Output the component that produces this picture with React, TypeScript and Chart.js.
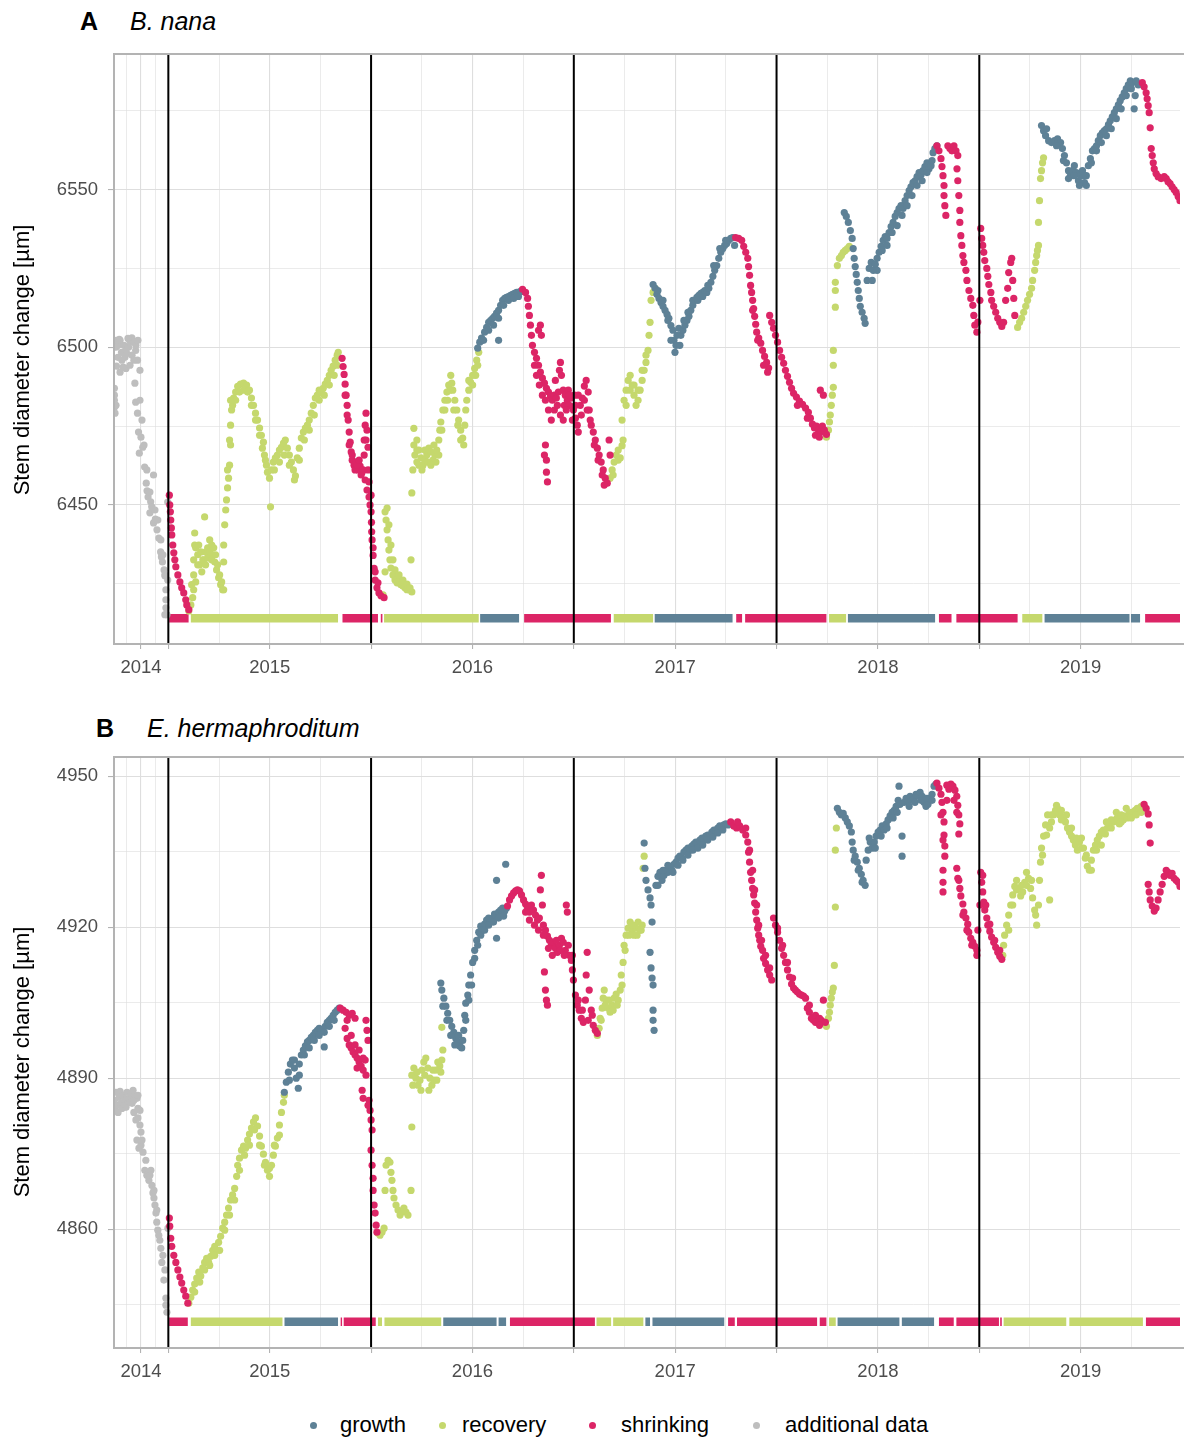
import React, { useEffect, useRef } from 'react';
import { Chart, registerables } from 'chart.js';

Chart.register(...registerables);

const FONT = '"Liberation Sans", Arial, Helvetica, sans-serif';
const COLORS: Record<string, string> = {
  growth: '#5E8196',
  recovery: '#C5D86D',
  shrinking: '#DC2566',
  additional: '#BEBEBE',
};

// ---------- shared x axis (decimal years; season boundaries) ----------
const X_MIN = 2014.232;
const X_MAX = 2019.49;
const seasonBoundaries = [2014.5, 2015.5, 2016.5, 2017.5, 2018.5];
const yearTickValues = [2014.365, 2015, 2016, 2017, 2018, 2019];
const yearTickLabels = ['2014', '2015', '2016', '2017', '2018', '2019'];
const minorXValues = [2014.295, 2014.435, 2014.75, 2015.25, 2015.75, 2016.25, 2016.75, 2017.25, 2017.75, 2018.25, 2018.75, 2019.25];

// ---------- panel A: B. nana ----------
const A_yRange = [6405.9, 6593.0];
const A_yMajor = [6450, 6500, 6550];
const A_yMinor = [6425, 6475, 6525, 6575];
const A_barLevel = 6414.1;

const A_additional = [
  [2014.234,6484.8],[2014.234,6481.0],[2014.237,6479.1],[2014.242,6500.0],[2014.244,6494.0],[2014.251,6496.8],[2014.258,6502.5],[2014.269,6498.4],[2014.277,6493.7],[2014.286,6496.8],[2014.295,6498.0],[2014.304,6500.0],[2014.313,6501.6],[2014.320,6503.0],[2014.330,6501.6],[2014.339,6499.0],[2014.348,6495.9],[2014.360,6492.7],[2014.335,6488.6],[2014.339,6482.6],[2014.348,6479.1],[2014.353,6473.1],[2014.365,6471.5],[2014.357,6466.4],[2014.374,6468.3],[2014.383,6462.0],[2014.391,6456.9],[2014.395,6454.5],[2014.427,6459.5],[2014.400,6452.5],[2014.413,6451.0],[2014.418,6449.4],[2014.409,6447.5],[2014.427,6444.3],[2014.436,6445.5],[2014.444,6442.1],[2014.453,6439.5],[2014.462,6435.1],[2014.466,6433.5],[2014.471,6431.9],[2014.479,6429.4],[2014.484,6427.5],[2014.497,6426.2],[2014.488,6419.9],[2014.488,6417.4],[2014.493,6415.2],[2014.497,6450.9],
  [2014.242,6502.2],[2014.252,6500.6],[2014.262,6502.2],[2014.271,6495.9],[2014.281,6500.6],[2014.291,6499.0],[2014.301,6502.8],[2014.321,6497.5],[2014.330,6495.9],[2014.340,6500.6],[2014.350,6502.2],[2014.291,6493.3],[2014.262,6492.1],[2014.311,6494.3],[2014.234,6487.0],[2014.234,6483.2],[2014.242,6481.6],
  [2014.360,6483.2],[2014.370,6476.9],[2014.380,6469.0],[2014.394,6461.1],[2014.409,6454.1],[2014.434,6448.4],[2014.448,6445.2],[2014.463,6438.9],[2014.473,6434.2],[2014.483,6427.8],[2014.488,6423.1],[2014.483,6415.2],
];

const A_shrinking = [
  [2014.505,6453.1],[2014.507,6450.0],[2014.510,6447.8],[2014.512,6445.2],[2014.515,6442.7],[2014.517,6440.5],[2014.522,6437.3],[2014.527,6434.8],[2014.532,6432.6],[2014.537,6430.4],[2014.547,6427.8],[2014.557,6425.6],[2014.566,6423.7],[2014.576,6422.1],[2014.586,6419.9],[2014.591,6418.3],[2014.601,6416.8],
  [2015.357,6496.5],[2015.362,6493.9],[2015.367,6491.4],[2015.372,6488.3],[2015.377,6484.8],[2015.382,6481.6],[2015.387,6476.9],[2015.392,6473.1],[2015.397,6469.9],[2015.402,6466.8],[2015.407,6464.2],[2015.416,6462.6],[2015.426,6463.6],[2015.436,6461.1],[2015.446,6462.3],[2015.456,6460.4],[2015.466,6465.8],[2015.466,6470.6],[2015.471,6475.3],[2015.475,6479.1],[2015.480,6473.7],[2015.485,6468.3],[2015.471,6457.9],[2015.480,6454.7],[2015.490,6452.5],[2015.495,6450.0],[2015.500,6447.8],[2015.502,6444.5],[2015.503,6441.5],[2015.505,6438.9],[2015.510,6434.0],[2015.515,6429.9],[2015.520,6426.2],[2015.529,6423.7],[2015.539,6422.1],[2015.549,6421.2],[2015.564,6420.6],
  [2015.372,6484.8],[2015.382,6478.5],[2015.392,6469.0],[2015.407,6465.8],[2015.421,6461.1],[2015.431,6462.6],[2015.441,6464.2],[2015.451,6459.5],[2015.461,6461.1],[2015.475,6470.6],[2015.485,6461.1],[2015.490,6457.3],[2015.500,6453.1],[2015.510,6436.4],[2015.520,6428.8],[2015.534,6425.3],
  [2016.247,6518.4],[2016.262,6517.4],[2016.272,6515.5],[2016.276,6513.0],[2016.281,6510.1],[2016.286,6507.0],[2016.291,6503.8],[2016.296,6500.6],[2016.306,6498.4],[2016.316,6496.5],[2016.326,6505.4],[2016.335,6507.0],[2016.340,6503.8],[2016.326,6494.3],[2016.335,6492.1],[2016.345,6490.2],[2016.355,6488.6],[2016.365,6487.0],[2016.375,6485.8],[2016.385,6484.5],[2016.360,6469.0],[2016.365,6464.2],[2016.365,6460.4],[2016.370,6457.3],[2016.394,6483.2],[2016.404,6484.8],[2016.409,6489.5],[2016.414,6483.9],[2016.424,6485.8],[2016.429,6492.7],[2016.434,6495.2],[2016.439,6491.1],[2016.448,6486.4],[2016.453,6481.6],[2016.458,6484.8],[2016.468,6483.2],[2016.473,6486.4],[2016.478,6481.6],[2016.488,6483.9],[2016.498,6480.1],[2016.503,6484.8],[2016.508,6477.5],[2016.517,6475.3],[2016.522,6473.1],[2016.532,6481.6],[2016.542,6483.9],[2016.552,6487.7],[2016.561,6489.5],[2016.571,6485.8],[2016.576,6480.1],[2016.586,6475.3],[2016.596,6473.1],[2016.606,6470.6],[2016.616,6468.0],[2016.625,6465.8],[2016.635,6463.6],[2016.645,6461.1],[2016.655,6458.5],[2016.665,6456.9],[2016.674,6470.6],[2016.679,6465.8],
  [2016.306,6494.3],[2016.316,6491.1],[2016.330,6488.0],[2016.345,6484.8],[2016.360,6483.2],[2016.375,6480.1],[2016.389,6476.9],[2016.404,6480.1],[2016.419,6481.6],[2016.434,6478.5],[2016.448,6476.9],[2016.463,6480.1],[2016.478,6484.8],[2016.493,6476.9],[2016.508,6481.6],[2016.522,6484.8],[2016.537,6478.5],[2016.552,6483.2],[2016.566,6480.1],[2016.581,6476.9],[2016.601,6469.0],[2016.620,6464.2],[2016.640,6459.5],[2016.650,6456.3],[2016.355,6465.8],
  [2017.298,6534.8],[2017.313,6534.5],[2017.328,6533.9],[2017.338,6532.0],[2017.348,6530.1],[2017.358,6528.2],[2017.362,6525.6],[2017.367,6522.8],[2017.372,6519.6],[2017.377,6517.4],[2017.382,6514.9],[2017.387,6512.3],[2017.392,6509.8],[2017.397,6507.3],[2017.402,6504.8],[2017.412,6502.9],[2017.422,6501.3],[2017.431,6499.0],[2017.441,6497.1],[2017.451,6495.2],[2017.461,6493.4],[2017.466,6510.1],[2017.476,6507.9],[2017.485,6506.0],[2017.495,6503.8],[2017.505,6501.6],[2017.515,6499.0],[2017.525,6496.8],[2017.535,6494.9],[2017.544,6492.7],[2017.554,6490.8],[2017.564,6488.9],[2017.574,6487.0],[2017.584,6485.4],[2017.598,6484.2],[2017.613,6482.9],[2017.628,6481.9],[2017.643,6480.7],[2017.657,6479.4],[2017.667,6477.5],[2017.677,6475.6],[2017.687,6474.4],[2017.697,6475.0],[2017.707,6473.7],[2017.716,6473.1],[2017.726,6475.0],[2017.731,6484.8],[2017.736,6473.7],[2017.746,6472.4],
  [2017.382,6511.7],[2017.407,6502.2],[2017.436,6494.3],[2017.456,6492.1],[2017.603,6481.6],[2017.652,6477.5],[2017.692,6472.1],[2017.711,6471.5],[2017.716,6486.4],
  [2018.291,6563.9],[2018.301,6562.3],[2018.311,6559.8],[2018.316,6557.3],[2018.321,6554.4],[2018.326,6551.3],[2018.326,6548.1],[2018.330,6544.9],[2018.335,6541.8],[2018.345,6563.9],[2018.355,6563.0],[2018.365,6562.3],[2018.375,6563.9],[2018.385,6562.3],[2018.394,6560.8],[2018.390,6556.6],[2018.394,6552.8],[2018.399,6548.1],[2018.404,6543.4],[2018.404,6539.6],[2018.409,6535.4],[2018.414,6532.3],[2018.419,6529.1],[2018.424,6526.9],[2018.434,6524.4],[2018.439,6521.2],[2018.449,6518.0],[2018.458,6515.5],[2018.468,6513.3],[2018.473,6510.1],[2018.478,6507.0],[2018.488,6504.8],[2018.493,6508.0],[2018.503,6514.9],[2018.507,6537.7],[2018.512,6534.5],[2018.517,6532.3],[2018.522,6530.1],[2018.527,6527.5],[2018.537,6525.0],[2018.542,6522.5],[2018.547,6519.9],[2018.557,6517.4],[2018.561,6514.9],[2018.571,6513.0],[2018.581,6511.1],[2018.591,6509.2],[2018.601,6507.9],[2018.611,6506.6],[2018.620,6507.9],[2018.630,6514.9],[2018.640,6518.7],[2018.645,6523.7],[2018.655,6526.9],[2018.660,6528.2],[2018.665,6521.2],[2018.670,6515.5],[2018.675,6510.1],
  [2019.304,6583.9],[2019.313,6582.6],[2019.323,6580.7],[2019.328,6578.8],[2019.333,6576.6],[2019.338,6574.4],[2019.343,6569.6],[2019.348,6563.0],[2019.353,6560.8],[2019.358,6558.5],[2019.363,6556.6],[2019.372,6555.1],[2019.382,6554.1],[2019.397,6553.5],[2019.412,6554.1],[2019.422,6553.5],[2019.431,6552.5],[2019.441,6551.9],[2019.451,6550.9],[2019.461,6550.0],[2019.471,6549.1],[2019.481,6547.8],[2019.490,6546.5],
];

const A_recovery = [
  [2014.601,6416.4],[2014.611,6418.3],[2014.620,6420.6],[2014.625,6423.1],[2014.635,6425.6],[2014.625,6432.6],[2014.630,6437.3],[2014.630,6441.1],[2014.645,6434.2],[2014.655,6431.0],[2014.665,6428.8],[2014.674,6432.6],[2014.679,6446.2],[2014.684,6435.1],[2014.694,6436.4],[2014.704,6438.9],[2014.714,6437.3],[2014.719,6434.2],[2014.729,6431.9],[2014.738,6429.4],[2014.748,6426.9],[2014.758,6424.7],[2014.768,6423.1],[2014.773,6431.9],[2014.773,6437.3],[2014.778,6443.7],[2014.783,6448.4],[2014.787,6451.6],[2014.792,6455.4],[2014.797,6458.5],[2014.802,6462.6],[2014.807,6469.0],[2014.807,6475.3],[2014.812,6480.1],[2014.822,6483.9],[2014.832,6485.8],[2014.842,6487.6],[2014.856,6488.3],[2014.871,6488.6],[2014.886,6488.0],[2014.900,6486.4],[2014.910,6483.9],[2014.920,6481.6],[2014.930,6479.1],[2014.940,6476.9],[2014.950,6474.4],[2014.959,6472.1],[2014.969,6469.9],[2014.974,6465.8],[2014.984,6462.6],[2014.989,6460.4],[2014.999,6458.5],[2015.004,6449.4],[2015.009,6461.1],[2015.018,6463.6],[2015.028,6464.9],[2015.038,6465.8],[2015.048,6467.4],[2015.058,6468.3],[2015.068,6469.6],[2015.077,6470.6],[2015.087,6468.0],[2015.097,6465.8],[2015.107,6463.6],[2015.117,6461.1],[2015.127,6459.2],[2015.136,6464.9],[2015.146,6468.0],[2015.156,6471.2],[2015.166,6473.1],[2015.176,6474.4],[2015.186,6475.3],[2015.195,6476.9],[2015.205,6479.1],[2015.215,6481.6],[2015.225,6483.9],[2015.235,6484.8],[2015.244,6486.4],[2015.254,6485.8],[2015.264,6487.0],[2015.274,6488.3],[2015.284,6489.5],[2015.294,6491.1],[2015.303,6492.7],[2015.313,6494.0],[2015.323,6495.9],[2015.333,6497.5],[2015.338,6498.4],
  [2014.635,6436.4],[2014.650,6437.3],[2014.660,6435.1],[2014.670,6432.6],[2014.684,6431.0],[2014.694,6433.2],[2014.704,6435.1],[2014.714,6432.6],[2014.724,6436.4],[2014.733,6434.2],[2014.743,6431.0],[2014.753,6427.8],[2014.763,6425.6],[2014.773,6423.1],[2014.615,6424.7],[2014.625,6427.8],[2014.645,6431.0],
  [2014.817,6481.6],[2014.832,6483.2],[2014.851,6485.8],[2014.871,6486.4],[2014.891,6485.8],[2014.910,6481.6],[2014.930,6476.9],[2014.950,6472.1],[2014.964,6468.0],[2014.979,6464.2],[2014.792,6461.1],[2014.802,6470.6],[2014.807,6483.2],
  [2015.023,6461.1],[2015.048,6463.6],[2015.072,6465.8],[2015.097,6462.6],[2015.122,6457.9],[2015.146,6464.2],[2015.171,6470.6],[2015.195,6473.7],[2015.220,6478.5],[2015.244,6483.2],[2015.269,6484.8],[2015.294,6488.0],[2015.318,6491.1],[2015.333,6494.3],
  [2015.559,6421.5],[2015.569,6447.8],[2015.574,6445.2],[2015.579,6442.1],[2015.584,6438.9],[2015.588,6435.7],[2015.593,6432.6],[2015.598,6430.0],[2015.569,6428.8],[2015.608,6427.8],[2015.618,6426.2],[2015.628,6425.3],[2015.638,6426.2],[2015.647,6424.7],[2015.657,6424.3],[2015.667,6423.7],[2015.677,6423.1],[2015.687,6423.1],[2015.697,6432.6],[2015.701,6422.4],
  [2015.579,6449.0],[2015.588,6443.7],[2015.598,6437.3],[2015.608,6432.6],[2015.618,6429.4],[2015.638,6427.8],[2015.657,6426.2],[2015.677,6424.9],[2015.692,6423.7],
  [2015.701,6453.8],[2015.706,6461.1],[2015.711,6474.3],[2015.716,6465.8],[2015.726,6463.6],[2015.726,6470.6],[2015.736,6467.4],[2015.746,6464.9],[2015.756,6462.6],[2015.765,6464.2],[2015.775,6465.8],[2015.785,6468.0],[2015.795,6466.8],[2015.805,6464.2],[2015.815,6465.8],[2015.824,6467.4],[2015.834,6470.6],[2015.839,6473.7],[2015.844,6476.3],[2015.854,6480.1],[2015.864,6483.2],[2015.874,6485.8],[2015.883,6488.0],[2015.893,6491.1],[2015.903,6486.4],[2015.913,6483.2],[2015.923,6480.1],[2015.932,6476.9],[2015.942,6473.7],[2015.952,6471.2],[2015.962,6475.3],[2015.972,6483.2],[2015.982,6486.4],[2015.991,6488.9],[2016.001,6491.1],[2016.011,6493.3],[2016.021,6495.9],[2016.031,6498.4],
  [2015.711,6469.0],[2015.726,6467.4],[2015.736,6462.6],[2015.751,6461.1],[2015.765,6467.4],[2015.780,6463.6],[2015.795,6462.6],[2015.810,6469.0],[2015.820,6463.6],[2015.834,6465.8],[2015.849,6473.7],[2015.864,6480.1],[2015.878,6483.2],[2015.888,6486.4],[2015.898,6488.6],[2015.908,6480.1],[2015.928,6475.3],[2015.942,6470.6],[2015.957,6469.0],[2015.967,6480.1],[2015.982,6489.5],[2016.001,6488.0],[2016.016,6491.1],[2016.026,6494.3],
  [2016.679,6458.5],[2016.689,6461.1],[2016.699,6463.6],[2016.709,6465.8],[2016.719,6467.4],[2016.729,6464.9],[2016.738,6468.8],[2016.738,6476.9],[2016.748,6483.2],[2016.758,6486.4],[2016.768,6489.5],[2016.778,6491.1],[2016.788,6488.0],[2016.797,6484.8],[2016.807,6481.6],[2016.817,6483.2],[2016.827,6486.4],[2016.837,6489.5],[2016.847,6492.7],[2016.856,6495.2],[2016.866,6499.0],[2016.871,6503.8],[2016.876,6507.9],[2016.881,6514.9],[2016.891,6517.4],[2016.901,6518.7],
  [2016.694,6459.5],[2016.719,6464.2],[2016.743,6470.6],[2016.758,6481.6],[2016.778,6486.4],[2016.797,6488.0],[2016.817,6486.4],[2016.837,6492.7],[2016.856,6497.5],
  [2017.746,6471.5],[2017.756,6473.7],[2017.761,6476.3],[2017.765,6478.5],[2017.770,6481.6],[2017.775,6484.8],[2017.780,6487.3],[2017.780,6494.3],[2017.780,6499.0],[2017.790,6512.7],[2017.790,6518.0],[2017.790,6520.6],[2017.800,6525.9],[2017.810,6528.2],[2017.820,6529.1],[2017.829,6530.1],[2017.839,6530.7],[2017.849,6531.3],[2017.859,6532.0],
  [2018.689,6506.3],[2018.699,6507.9],[2018.709,6509.2],[2018.719,6511.1],[2018.729,6513.0],[2018.738,6514.9],[2018.748,6516.8],[2018.758,6518.7],[2018.763,6521.2],[2018.773,6524.4],[2018.778,6526.9],[2018.783,6529.1],[2018.787,6530.7],[2018.792,6532.3],[2018.792,6539.6],[2018.797,6546.5],[2018.802,6553.5],[2018.807,6556.0],[2018.812,6558.5],[2018.817,6560.1],
];

const A_growth = [
  [2016.026,6499.7],[2016.036,6501.6],[2016.045,6502.9],[2016.060,6504.8],[2016.070,6506.3],[2016.080,6507.9],[2016.090,6508.5],[2016.100,6509.2],[2016.109,6509.8],[2016.119,6510.8],[2016.129,6502.2],[2016.129,6511.7],[2016.139,6513.3],[2016.149,6514.9],[2016.159,6515.5],[2016.168,6515.8],[2016.178,6516.1],[2016.188,6516.5],[2016.198,6516.8],[2016.208,6517.1],[2016.218,6517.4],[2016.227,6517.4],[2016.237,6517.7],[2016.247,6517.7],
  [2016.055,6502.2],[2016.080,6505.4],[2016.104,6507.0],[2016.129,6509.2],[2016.154,6513.3],[2016.178,6514.9],[2016.203,6515.5],[2016.227,6516.1],
  [2016.891,6519.9],[2016.901,6518.7],[2016.910,6516.8],[2016.920,6515.5],[2016.930,6514.2],[2016.940,6513.0],[2016.950,6511.7],[2016.960,6510.4],[2016.969,6509.2],[2016.979,6506.9],[2016.989,6505.4],[2016.994,6502.2],[2016.999,6498.4],[2017.009,6503.8],[2017.018,6506.0],[2017.028,6503.8],[2017.038,6505.4],[2017.048,6507.0],[2017.058,6508.5],[2017.068,6509.8],[2017.077,6511.7],[2017.087,6513.3],[2017.097,6514.9],[2017.107,6515.8],[2017.117,6516.5],[2017.127,6517.1],[2017.136,6517.4],[2017.146,6518.0],[2017.156,6517.4],[2017.166,6518.7],[2017.176,6520.6],[2017.186,6522.5],[2017.195,6524.4],[2017.205,6525.9],[2017.215,6528.2],[2017.225,6530.1],[2017.235,6531.3],[2017.244,6532.3],[2017.254,6532.9],[2017.264,6533.9],[2017.274,6534.5],[2017.284,6534.8],[2017.293,6532.3],
  [2016.915,6518.0],[2016.940,6514.9],[2016.964,6508.5],[2016.979,6502.2],[2017.004,6500.6],[2017.023,6500.6],[2017.043,6508.5],[2017.063,6511.1],[2017.087,6514.9],[2017.112,6514.9],[2017.136,6516.1],[2017.161,6519.6],[2017.190,6525.9],[2017.220,6531.3],[2017.249,6533.9],
  [2017.834,6542.7],[2017.844,6541.5],[2017.854,6539.6],[2017.864,6537.0],[2017.873,6534.5],[2017.878,6531.3],[2017.883,6528.2],[2017.888,6525.6],[2017.893,6523.1],[2017.898,6520.6],[2017.903,6518.0],[2017.908,6515.5],[2017.913,6513.0],[2017.922,6511.1],[2017.932,6509.2],[2017.937,6507.6],[2017.947,6521.2],[2017.957,6525.0],[2017.967,6526.9],[2017.977,6524.4],[2017.987,6526.3],[2017.996,6528.2],[2018.006,6530.1],[2018.016,6532.0],[2018.026,6533.9],[2018.036,6535.1],[2018.045,6534.5],[2018.055,6536.4],[2018.065,6538.3],[2018.075,6539.6],[2018.085,6541.5],[2018.095,6542.7],[2018.104,6544.0],[2018.114,6544.9],[2018.124,6544.0],[2018.134,6546.5],[2018.144,6548.1],[2018.154,6549.7],[2018.163,6550.9],[2018.173,6552.2],[2018.183,6552.8],[2018.193,6554.1],[2018.203,6555.4],[2018.213,6554.7],[2018.222,6556.0],[2018.232,6557.3],[2018.242,6558.5],[2018.252,6556.6],[2018.262,6557.6],[2018.272,6561.7],[2018.281,6563.0],[2018.291,6563.9],
  [2017.972,6521.2],[2017.996,6524.4],[2018.021,6530.7],[2018.045,6532.3],[2018.070,6536.4],[2018.095,6538.6],[2018.119,6541.8],[2018.144,6544.9],[2018.168,6548.1],[2018.193,6551.3],[2018.218,6552.8],[2018.242,6555.4],[2018.267,6559.2],
  [2018.807,6570.3],[2018.817,6568.7],[2018.827,6567.1],[2018.842,6565.5],[2018.856,6564.9],[2018.871,6565.5],[2018.886,6566.1],[2018.901,6564.9],[2018.910,6563.0],[2018.920,6560.8],[2018.930,6558.5],[2018.940,6556.0],[2018.950,6554.4],[2018.960,6556.0],[2018.969,6557.6],[2018.979,6555.4],[2018.989,6552.8],[2018.999,6554.4],[2019.009,6556.0],[2019.019,6552.2],[2019.028,6554.4],[2019.038,6557.6],[2019.048,6559.8],[2019.058,6562.3],[2019.068,6563.0],[2019.078,6563.9],[2019.087,6565.5],[2019.097,6567.1],[2019.107,6568.0],[2019.117,6568.7],[2019.127,6569.3],[2019.137,6570.6],[2019.146,6571.8],[2019.156,6573.1],[2019.166,6574.4],[2019.176,6575.6],[2019.186,6576.9],[2019.195,6578.2],[2019.205,6579.4],[2019.215,6580.7],[2019.225,6582.0],[2019.235,6583.2],[2019.245,6584.5],[2019.254,6583.9],[2019.264,6575.6],[2019.274,6584.5],[2019.284,6583.2],
  [2018.832,6569.3],[2018.881,6563.9],[2018.915,6559.2],[2018.940,6553.5],[2018.969,6554.4],[2018.994,6551.3],[2019.014,6554.4],[2019.028,6551.3],[2019.053,6558.5],[2019.078,6562.3],[2019.102,6564.9],[2019.127,6567.1],[2019.151,6569.3],[2019.176,6572.5],[2019.200,6575.6],[2019.225,6579.8],[2019.250,6582.0],[2019.269,6579.8],
];

const A_phaseBars: [string, number, number][] = [
  ['shrinking', 2014.504, 2014.600], ['recovery', 2014.611, 2015.337], ['shrinking', 2015.359, 2015.534], ['shrinking', 2015.548, 2015.556],
  ['recovery', 2015.564, 2016.031], ['growth', 2016.038, 2016.230], ['shrinking', 2016.255, 2016.683], ['recovery', 2016.697, 2016.891],
  ['growth', 2016.899, 2017.283], ['shrinking', 2017.301, 2017.330], ['shrinking', 2017.345, 2017.746], ['recovery', 2017.759, 2017.843],
  ['growth', 2017.852, 2018.282], ['shrinking', 2018.301, 2018.363], ['shrinking', 2018.387, 2018.689], ['recovery', 2018.712, 2018.811],
  ['growth', 2018.822, 2019.241], ['growth', 2019.248, 2019.293], ['shrinking', 2019.318, 2019.49],
];

// ---------- panel B: E. hermaphroditum ----------
const B_yRange = [4836.4, 4953.8];
const B_yMajor = [4860, 4890, 4920, 4950];
const B_yMinor = [4845, 4875, 4905, 4935];
const B_barLevel = 4841.6;

const B_additional = [
  [2014.234,4885.6],[2014.237,4883.6],[2014.247,4884.6],[2014.257,4886.2],[2014.262,4887.4],[2014.267,4885.0],[2014.276,4886.6],[2014.286,4885.6],[2014.291,4884.2],[2014.296,4887.2],[2014.306,4886.0],[2014.316,4886.8],[2014.321,4885.0],[2014.326,4887.6],[2014.335,4886.6],[2014.345,4886.0],[2014.350,4884.0],[2014.330,4883.2],[2014.340,4881.7],[2014.350,4882.1],[2014.360,4880.7],[2014.365,4879.3],[2014.345,4877.7],[2014.355,4876.1],[2014.365,4876.7],[2014.375,4875.3],[2014.384,4871.7],[2014.394,4870.7],[2014.404,4869.7],[2014.414,4871.7],[2014.419,4868.7],[2014.424,4867.2],[2014.429,4866.2],[2014.434,4864.8],[2014.439,4863.2],[2014.443,4861.4],[2014.448,4859.8],[2014.458,4857.8],[2014.463,4856.2],[2014.473,4854.8],[2014.483,4851.9],[2014.488,4846.3],[2014.488,4844.9],[2014.493,4843.5],[2014.498,4860.2],
  [2014.242,4887.2],[2014.252,4883.2],[2014.271,4884.0],[2014.291,4884.6],[2014.311,4885.2],[2014.330,4885.6],[2014.350,4886.6],[2014.360,4883.6],[2014.370,4877.7],[2014.389,4873.7],[2014.409,4870.7],[2014.429,4867.7],[2014.443,4863.8],[2014.453,4858.8],[2014.468,4853.4],[2014.478,4849.9],
];

const B_shrinking = [
  [2014.505,4862.2],[2014.507,4860.6],[2014.512,4858.2],[2014.517,4856.6],[2014.527,4854.8],[2014.537,4853.4],[2014.547,4851.9],[2014.557,4850.5],[2014.566,4849.3],[2014.576,4847.9],[2014.586,4846.7],[2014.596,4845.3],
  [2015.348,4903.9],[2015.362,4903.5],[2015.377,4903.1],[2015.392,4902.5],[2015.407,4902.9],[2015.421,4901.9],[2015.372,4899.9],[2015.382,4897.9],[2015.392,4896.6],[2015.402,4896.0],[2015.411,4895.2],[2015.421,4894.6],[2015.431,4894.0],[2015.441,4893.2],[2015.451,4892.4],[2015.461,4891.6],[2015.471,4893.6],[2015.456,4887.6],[2015.461,4886.0],[2015.475,4901.5],[2015.480,4899.5],[2015.485,4897.5],[2015.490,4885.6],[2015.495,4883.6],[2015.500,4881.7],[2015.505,4879.7],[2015.505,4872.7],[2015.510,4870.1],[2015.510,4867.7],[2015.515,4864.8],[2015.520,4863.2],[2015.525,4860.8],[2015.529,4859.4],
  [2015.382,4901.5],[2015.402,4898.5],[2015.421,4896.6],[2015.441,4895.6],[2015.461,4894.0],[2015.475,4890.6],[2015.431,4892.0],[2015.485,4884.6],[2015.500,4875.7],
  [2016.173,4924.2],[2016.183,4925.4],[2016.193,4926.2],[2016.203,4926.8],[2016.213,4927.2],[2016.222,4927.4],[2016.232,4927.2],[2016.242,4926.4],[2016.252,4925.4],[2016.262,4924.6],[2016.272,4923.8],[2016.281,4923.0],[2016.291,4924.4],[2016.301,4923.4],[2016.311,4922.4],[2016.321,4921.4],[2016.330,4921.8],[2016.335,4927.4],[2016.340,4930.3],[2016.345,4924.4],[2016.350,4920.4],[2016.355,4911.1],[2016.360,4907.5],[2016.365,4905.5],[2016.370,4904.5],[2016.360,4919.4],[2016.370,4918.2],[2016.380,4917.4],[2016.389,4916.4],[2016.399,4917.0],[2016.409,4915.8],[2016.419,4915.0],[2016.429,4916.4],[2016.439,4917.8],[2016.448,4917.0],[2016.458,4915.4],[2016.463,4924.4],[2016.468,4923.0],[2016.478,4914.4],[2016.488,4913.4],[2016.493,4911.5],[2016.498,4909.5],[2016.508,4906.5],[2016.517,4904.5],[2016.527,4903.5],[2016.537,4901.9],[2016.547,4901.1],[2016.557,4905.5],[2016.561,4910.5],[2016.566,4915.0],[2016.576,4907.5],[2016.586,4903.5],[2016.596,4900.5],[2016.606,4899.5],[2016.616,4898.9],
  [2016.262,4923.0],[2016.281,4921.4],[2016.306,4920.4],[2016.326,4919.4],[2016.350,4918.4],[2016.375,4915.8],[2016.394,4914.4],[2016.414,4917.4],[2016.434,4915.4],[2016.453,4914.4],[2016.473,4916.4],[2016.493,4914.4],[2016.522,4905.5],[2016.542,4903.5],[2016.571,4901.5],[2016.591,4902.5],
  [2017.274,4940.9],[2017.289,4940.1],[2017.303,4939.7],[2017.318,4940.1],[2017.333,4939.3],[2017.348,4938.3],[2017.358,4936.9],[2017.362,4934.9],[2017.367,4932.9],[2017.372,4930.9],[2017.377,4929.3],[2017.382,4927.7],[2017.387,4926.4],[2017.392,4924.8],[2017.397,4923.0],[2017.402,4921.4],[2017.407,4919.8],[2017.412,4918.4],[2017.417,4917.4],[2017.422,4916.2],[2017.431,4915.4],[2017.436,4913.8],[2017.446,4912.8],[2017.456,4911.5],[2017.466,4910.5],[2017.476,4909.5],[2017.485,4921.8],[2017.495,4920.4],[2017.505,4919.0],[2017.515,4917.4],[2017.525,4915.8],[2017.535,4914.4],[2017.544,4913.0],[2017.554,4911.5],[2017.564,4910.1],[2017.574,4908.7],[2017.584,4907.9],[2017.593,4907.5],[2017.603,4907.1],[2017.613,4906.7],[2017.623,4906.5],[2017.633,4906.3],[2017.643,4905.9],[2017.652,4903.9],[2017.662,4903.1],[2017.672,4901.9],[2017.682,4901.5],[2017.692,4902.5],[2017.702,4901.1],[2017.712,4901.9],[2017.721,4901.5],[2017.731,4905.5],[2017.741,4901.1],
  [2017.308,4940.9],[2017.348,4939.7],[2017.367,4935.3],[2017.382,4931.3],[2017.392,4927.4],[2017.402,4924.4],[2017.412,4920.4],[2017.426,4917.4],[2017.446,4914.4],[2017.466,4911.9],[2017.505,4919.8],[2017.530,4916.4],[2017.554,4913.0],[2017.579,4909.9],[2017.662,4904.5],[2017.692,4901.1],[2017.712,4900.5],
  [2018.291,4948.6],[2018.301,4947.6],[2018.311,4946.4],[2018.316,4944.8],[2018.321,4942.8],[2018.326,4940.9],[2018.326,4938.3],[2018.330,4936.1],[2018.330,4934.1],[2018.321,4931.3],[2018.321,4928.9],[2018.321,4927.0],[2018.340,4948.2],[2018.350,4947.4],[2018.360,4948.4],[2018.370,4948.0],[2018.380,4947.2],[2018.389,4946.0],[2018.394,4944.2],[2018.399,4942.3],[2018.404,4940.5],[2018.399,4938.5],[2018.389,4931.7],[2018.394,4929.7],[2018.404,4927.7],[2018.409,4926.2],[2018.419,4924.6],[2018.424,4923.0],[2018.434,4921.8],[2018.443,4920.6],[2018.448,4919.0],[2018.458,4917.8],[2018.468,4917.0],[2018.478,4916.2],[2018.488,4915.4],[2018.493,4919.4],[2018.503,4924.4],[2018.507,4930.9],[2018.512,4928.9],[2018.517,4927.0],[2018.522,4925.0],[2018.527,4923.4],[2018.537,4921.8],[2018.542,4920.4],[2018.552,4919.2],[2018.561,4918.0],[2018.571,4917.0],[2018.581,4916.0],[2018.591,4915.0],[2018.601,4914.2],[2018.611,4913.6],
  [2018.311,4942.3],[2018.321,4937.3],[2018.340,4945.2],[2018.375,4945.2],[2018.389,4942.8],[2018.399,4929.3],[2018.419,4922.4],[2018.439,4919.4],[2018.463,4916.4],[2018.488,4914.4],[2018.517,4930.3],[2018.532,4924.4],[2018.552,4920.6],[2018.576,4917.4],[2018.601,4915.4],
  [2019.313,4944.4],[2019.323,4943.6],[2019.333,4942.5],[2019.338,4940.3],[2019.343,4936.7],[2019.333,4928.5],[2019.338,4927.0],[2019.343,4925.4],[2019.353,4924.2],[2019.363,4923.2],[2019.372,4923.8],[2019.382,4925.4],[2019.392,4927.0],[2019.402,4928.5],[2019.412,4930.1],[2019.422,4931.3],[2019.431,4930.9],[2019.441,4930.3],[2019.451,4930.7],[2019.461,4929.7],[2019.471,4929.3],[2019.481,4928.9],[2019.490,4928.1],
];

const B_recovery = [
  [2014.601,4845.3],[2014.611,4846.5],[2014.620,4847.9],[2014.630,4849.1],[2014.640,4850.3],[2014.650,4851.5],[2014.660,4850.7],[2014.670,4852.3],[2014.679,4853.4],[2014.689,4854.2],[2014.699,4853.4],[2014.709,4854.6],[2014.719,4855.8],[2014.729,4856.6],[2014.738,4855.8],[2014.748,4857.4],[2014.758,4858.6],[2014.768,4860.2],[2014.778,4861.4],[2014.787,4862.8],[2014.797,4864.2],[2014.807,4865.8],[2014.817,4866.8],[2014.827,4868.1],[2014.837,4870.5],[2014.842,4872.7],[2014.851,4874.1],[2014.861,4875.7],[2014.871,4876.5],[2014.881,4876.1],[2014.891,4877.7],[2014.900,4878.9],[2014.910,4880.1],[2014.920,4881.3],[2014.930,4882.1],[2014.940,4880.5],[2014.950,4878.5],[2014.959,4876.5],[2014.969,4874.9],[2014.979,4873.3],[2014.989,4871.7],[2014.999,4870.5],[2015.009,4872.7],[2015.018,4874.7],[2015.028,4876.5],[2015.038,4878.1],[2015.048,4880.7],[2015.058,4883.2],[2015.068,4885.2],[2015.072,4886.6],
  [2014.630,4847.5],[2014.655,4849.5],[2014.679,4851.9],[2014.704,4852.8],[2014.729,4854.8],[2014.753,4855.8],[2014.778,4859.8],[2014.802,4862.8],[2014.827,4865.8],[2014.851,4871.7],[2014.876,4874.7],[2014.900,4876.7],[2014.925,4879.7],[2014.950,4876.7],[2014.974,4872.7],[2014.999,4872.1],[2015.023,4876.7],[2015.048,4878.7],
  [2015.534,4859.2],[2015.544,4858.8],[2015.554,4859.4],[2015.564,4860.2],[2015.569,4867.7],[2015.574,4872.7],[2015.584,4873.7],[2015.593,4873.3],[2015.598,4871.3],[2015.603,4869.7],[2015.608,4867.7],[2015.613,4866.2],[2015.623,4864.8],[2015.633,4863.8],[2015.643,4862.8],[2015.652,4863.4],[2015.662,4864.2],[2015.672,4863.4],[2015.682,4862.8],[2015.697,4867.7],
  [2015.701,4880.3],[2015.701,4890.6],[2015.711,4892.0],[2015.721,4890.0],[2015.731,4888.6],[2015.741,4889.6],[2015.751,4891.6],[2015.760,4893.2],[2015.770,4894.0],[2015.780,4892.0],[2015.790,4890.0],[2015.800,4888.6],[2015.810,4889.6],[2015.819,4891.6],[2015.829,4893.2],[2015.839,4892.4],[2015.849,4893.6],[2015.854,4895.6],[2015.849,4900.1],
  [2015.706,4888.6],[2015.726,4891.2],[2015.746,4887.6],[2015.765,4890.6],[2015.785,4887.6],[2015.805,4891.6],[2015.824,4889.6],[2015.844,4891.2],
  [2016.616,4898.5],[2016.625,4899.9],[2016.630,4901.9],[2016.640,4903.9],[2016.645,4905.9],[2016.650,4907.5],[2016.660,4905.5],[2016.669,4903.9],[2016.679,4903.1],[2016.689,4904.5],[2016.699,4905.9],[2016.709,4906.7],[2016.719,4905.5],[2016.729,4907.5],[2016.734,4910.5],[2016.743,4913.0],[2016.748,4916.4],[2016.758,4918.4],[2016.768,4919.8],[2016.778,4921.0],[2016.788,4919.4],[2016.797,4918.4],[2016.807,4919.8],[2016.817,4921.0],[2016.827,4919.4],[2016.837,4920.4],[2016.842,4931.7],[2016.847,4934.1],
  [2016.635,4901.5],[2016.655,4904.5],[2016.674,4905.5],[2016.694,4903.5],[2016.714,4904.5],[2016.738,4908.5],[2016.753,4915.4],[2016.773,4918.4],[2016.792,4920.4],[2016.812,4918.4],[2016.832,4919.4],
  [2017.746,4900.3],[2017.756,4901.9],[2017.761,4903.1],[2017.765,4904.5],[2017.770,4905.9],[2017.775,4907.1],[2017.780,4907.9],[2017.785,4912.4],[2017.790,4924.0],[2017.790,4935.3],[2017.795,4939.7],
  [2018.616,4914.4],[2018.620,4916.4],[2018.625,4918.4],[2018.635,4920.4],[2018.645,4922.4],[2018.655,4924.4],[2018.665,4926.4],[2018.675,4928.1],[2018.684,4929.3],[2018.694,4927.7],[2018.704,4926.2],[2018.714,4927.0],[2018.724,4928.9],[2018.733,4930.9],[2018.743,4929.7],[2018.753,4927.7],[2018.763,4925.8],[2018.773,4923.4],[2018.783,4920.4],[2018.792,4924.4],[2018.797,4929.3],[2018.802,4932.9],[2018.807,4935.7],[2018.817,4938.1],[2018.827,4940.3],[2018.837,4942.3],[2018.847,4925.4],[2018.847,4939.7],[2018.856,4940.9],[2018.866,4942.3],[2018.876,4943.2],[2018.886,4943.6],[2018.896,4942.3],[2018.905,4943.2],[2018.915,4941.7],[2018.925,4940.9],[2018.935,4939.7],[2018.945,4938.9],[2018.955,4938.1],[2018.964,4937.3],[2018.974,4936.3],[2018.984,4935.3],[2018.994,4936.9],[2019.004,4937.7],[2019.014,4935.7],[2019.023,4933.7],[2019.033,4932.1],[2019.043,4931.3],[2019.053,4933.3],[2019.063,4935.3],[2019.073,4936.3],[2019.082,4937.3],[2019.092,4938.1],[2019.102,4938.9],[2019.112,4939.3],[2019.122,4938.5],[2019.132,4939.7],[2019.142,4940.3],[2019.151,4939.7],[2019.161,4940.9],[2019.171,4941.3],[2019.181,4941.7],[2019.191,4940.5],[2019.200,4940.9],[2019.210,4941.3],[2019.220,4942.1],[2019.230,4941.7],[2019.240,4942.5],[2019.250,4942.8],[2019.259,4942.3],[2019.269,4943.2],[2019.279,4943.6],[2019.289,4943.2],[2019.299,4944.0],[2019.308,4944.2],
  [2018.645,4919.4],[2018.665,4924.4],[2018.684,4927.4],[2018.709,4928.3],[2018.733,4928.3],[2018.758,4929.3],[2018.778,4922.4],[2018.812,4934.3],[2018.832,4938.3],[2018.856,4942.3],[2018.881,4944.2],[2018.905,4941.3],[2018.930,4942.3],[2018.955,4939.7],[2018.979,4937.7],[2019.004,4935.7],[2019.028,4934.3],[2019.053,4931.3],[2019.078,4935.3],[2019.102,4936.3],[2019.127,4940.9],[2019.151,4941.3],[2019.176,4942.8],[2019.200,4942.3],[2019.225,4943.6],[2019.250,4941.7],[2019.274,4942.3],[2019.299,4942.8],
];

const B_growth = [
  [2015.072,4887.2],[2015.082,4889.2],[2015.092,4891.2],[2015.102,4892.8],[2015.112,4893.6],[2015.122,4892.0],[2015.131,4890.0],[2015.141,4888.0],[2015.146,4892.8],[2015.156,4894.6],[2015.166,4895.6],[2015.176,4896.4],[2015.186,4897.2],[2015.195,4897.5],[2015.205,4898.1],[2015.215,4898.5],[2015.225,4899.1],[2015.235,4899.5],[2015.244,4899.9],[2015.254,4899.5],[2015.269,4896.2],[2015.274,4900.3],[2015.284,4901.1],[2015.294,4901.5],[2015.303,4901.9],[2015.313,4902.5],[2015.323,4903.1],[2015.333,4903.5],[2015.343,4903.9],
  [2015.097,4889.6],[2015.122,4893.6],[2015.146,4890.6],[2015.171,4894.6],[2015.195,4896.0],[2015.220,4897.5],[2015.244,4898.5],[2015.269,4899.1],[2015.294,4900.3],[2015.318,4901.5],
  [2015.844,4908.9],[2015.849,4907.5],[2015.859,4905.9],[2015.869,4904.3],[2015.878,4902.9],[2015.888,4901.5],[2015.898,4900.3],[2015.908,4899.1],[2015.918,4897.9],[2015.928,4897.2],[2015.937,4896.4],[2015.947,4896.0],[2015.957,4899.5],[2015.962,4902.5],[2015.967,4904.9],[2015.977,4906.5],[2015.982,4908.5],[2015.991,4910.5],[2016.001,4913.0],[2016.011,4915.4],[2016.021,4917.4],[2016.031,4919.0],[2016.041,4920.2],[2016.050,4919.4],[2016.060,4920.6],[2016.070,4921.4],[2016.080,4921.8],[2016.090,4921.0],[2016.100,4921.8],[2016.109,4922.6],[2016.119,4929.3],[2016.119,4917.8],[2016.129,4923.0],[2016.139,4923.4],[2016.149,4923.8],[2016.159,4923.2],[2016.164,4932.5],[2016.168,4923.8],
  [2015.854,4904.3],[2015.874,4901.5],[2015.893,4898.5],[2015.913,4896.6],[2015.932,4898.5],[2015.952,4897.5],[2015.967,4901.5],[2015.982,4905.5],[2015.996,4908.5],[2016.011,4913.8],[2016.026,4916.4],[2016.041,4918.4],[2016.060,4919.4],[2016.080,4920.4],[2016.104,4921.0],[2016.129,4921.8],[2016.154,4922.2],
  [2016.847,4936.7],[2016.851,4931.7],[2016.856,4929.3],[2016.866,4927.4],[2016.876,4925.8],[2016.881,4924.4],[2016.886,4921.0],[2016.876,4915.0],[2016.881,4911.9],[2016.886,4909.9],[2016.891,4908.5],[2016.891,4903.5],[2016.891,4901.5],[2016.896,4899.5],[2016.905,4928.3],[2016.915,4930.1],[2016.925,4930.9],[2016.935,4929.3],[2016.945,4930.3],[2016.955,4931.3],[2016.964,4930.9],[2016.974,4932.1],[2016.984,4931.3],[2016.994,4932.5],[2017.004,4932.9],[2017.014,4933.7],[2017.023,4934.1],[2017.033,4933.7],[2017.043,4934.9],[2017.053,4935.3],[2017.063,4935.7],[2017.073,4935.3],[2017.082,4936.1],[2017.092,4936.5],[2017.102,4936.9],[2017.112,4936.7],[2017.122,4937.3],[2017.132,4937.7],[2017.141,4937.3],[2017.151,4938.1],[2017.161,4938.3],[2017.171,4938.1],[2017.181,4938.9],[2017.191,4939.3],[2017.200,4939.1],[2017.210,4939.7],[2017.220,4940.1],[2017.230,4939.9],[2017.240,4940.3],[2017.250,4940.5],[2017.260,4940.3],[2017.269,4940.5],
  [2016.915,4928.3],[2016.940,4931.3],[2016.964,4932.3],[2016.989,4930.9],[2017.014,4932.3],[2017.038,4933.3],[2017.063,4934.3],[2017.087,4935.3],[2017.112,4935.7],[2017.136,4936.3],[2017.161,4937.3],[2017.186,4937.9],[2017.210,4938.7],[2017.235,4939.3],
  [2017.800,4943.6],[2017.810,4942.8],[2017.820,4942.3],[2017.829,4942.6],[2017.839,4941.7],[2017.849,4940.9],[2017.859,4940.1],[2017.869,4938.9],[2017.873,4936.9],[2017.878,4935.3],[2017.888,4934.1],[2017.898,4932.9],[2017.908,4931.7],[2017.918,4930.5],[2017.927,4929.3],[2017.937,4928.3],[2017.942,4933.3],[2017.952,4935.3],[2017.962,4936.9],[2017.972,4935.7],[2017.982,4936.9],[2017.991,4938.1],[2018.001,4938.9],[2018.011,4939.3],[2018.021,4940.1],[2018.031,4939.3],[2018.041,4940.5],[2018.050,4941.3],[2018.060,4942.1],[2018.070,4942.8],[2018.080,4943.2],[2018.090,4944.0],[2018.100,4945.2],[2018.104,4948.0],[2018.109,4944.4],[2018.119,4938.1],[2018.119,4934.1],[2018.129,4944.8],[2018.139,4945.6],[2018.149,4945.2],[2018.159,4946.0],[2018.168,4945.2],[2018.178,4945.6],[2018.188,4946.4],[2018.198,4946.0],[2018.208,4946.8],[2018.218,4946.0],[2018.227,4944.8],[2018.237,4944.0],[2018.247,4944.4],[2018.257,4945.6],[2018.267,4946.4],[2018.277,4948.0],[2018.286,4948.4],
  [2017.883,4933.3],[2017.903,4931.3],[2017.922,4928.9],[2017.957,4937.7],[2017.987,4935.7],[2018.016,4938.1],[2018.045,4939.7],[2018.075,4941.7],[2018.095,4942.8],[2018.154,4944.0],[2018.183,4944.8],[2018.213,4945.2],[2018.242,4945.6],[2018.267,4945.2],
];

const B_phaseBars: [string, number, number][] = [
  ['shrinking', 2014.504, 2014.596], ['recovery', 2014.611, 2015.063], ['growth', 2015.073, 2015.337], ['shrinking', 2015.350, 2015.357],
  ['shrinking', 2015.365, 2015.523], ['recovery', 2015.534, 2015.554], ['recovery', 2015.566, 2015.846], ['growth', 2015.856, 2016.119],
  ['growth', 2016.129, 2016.166], ['shrinking', 2016.185, 2016.604], ['recovery', 2016.612, 2016.684], ['recovery', 2016.694, 2016.843],
  ['growth', 2016.853, 2016.876], ['growth', 2016.888, 2017.242], ['shrinking', 2017.261, 2017.294], ['shrinking', 2017.305, 2017.700],
  ['shrinking', 2017.713, 2017.746], ['recovery', 2017.759, 2017.792], ['growth', 2017.801, 2018.106], ['growth', 2018.118, 2018.277],
  ['shrinking', 2018.301, 2018.374], ['shrinking', 2018.387, 2018.597], ['shrinking', 2018.603, 2018.611], ['recovery', 2018.620, 2018.929],
  ['recovery', 2018.944, 2019.307], ['shrinking', 2019.322, 2019.49],
];

const legendItems = ['growth', 'recovery', 'shrinking', 'additional data'];

// ---------- helpers ----------
type Tick = { value: number; label: string; kind: 'year' | 'season' | 'minor' };
const xTicks: Tick[] = [
  ...yearTickValues.map((v, i) => ({ value: v, label: yearTickLabels[i], kind: 'year' as const })),
  ...seasonBoundaries.map((v) => ({ value: v, label: '', kind: 'season' as const })),
  ...minorXValues.map((v) => ({ value: v, label: '', kind: 'minor' as const })),
].sort((a, b) => a.value - b.value);

const toPts = (arr: number[][]) => arr.map(([x, y]) => ({ x, y }));

function barSeries(bars: [string, number, number][], phase: string, level: number) {
  const out: { x: number; y: number | null }[] = [];
  bars.forEach(([p, s, e]) => {
    if (p === phase) out.push({ x: s, y: level }, { x: e, y: level }, { x: e, y: null });
  });
  return out;
}

const decorPlugin = {
  id: 'panelDecor',
  afterDatasetsDraw(chart: any) {
    const { ctx, chartArea: ca, scales } = chart;
    const x = scales.x;
    ctx.save();
    ctx.strokeStyle = '#000000';
    ctx.lineWidth = 2;
    seasonBoundaries.forEach((b) => {
      const px = x.getPixelForValue(b);
      ctx.beginPath();
      ctx.moveTo(px, ca.top);
      ctx.lineTo(px, ca.bottom);
      ctx.stroke();
    });
    ctx.strokeStyle = '#B3B3B3';
    ctx.lineWidth = 2;
    ctx.beginPath();
    ctx.moveTo(ca.right + 5, ca.top);
    ctx.lineTo(ca.left, ca.top);
    ctx.lineTo(ca.left, ca.bottom);
    ctx.lineTo(ca.right + 5, ca.bottom);
    ctx.stroke();
    ctx.restore();
  },
};

type PanelProps = {
  top: number;
  height: number;
  padTop: number;
  yRange: number[];
  yMajor: number[];
  yMinor: number[];
  barLevel: number;
  growth: number[][];
  recovery: number[][];
  shrinking: number[][];
  additional: number[][];
  bars: [string, number, number][];
};

function Panel(props: PanelProps) {
  const ref = useRef<HTMLCanvasElement>(null);
  useEffect(() => {
    const yTicks = [...props.yMajor, ...props.yMinor].sort((a, b) => a - b);
    const isMajorY = (i: number) => props.yMajor.includes(yTicks[i]);
    const pointDs = (label: string, data: number[][]) => ({
      label,
      data: toPts(data),
      pointRadius: 3.6,
      pointBorderWidth: 0,
      pointBackgroundColor: COLORS[label],
      backgroundColor: COLORS[label],
      borderColor: COLORS[label],
      showLine: false,
    });
    const barDs = (phase: string) => ({
      label: 'bar-' + phase,
      data: barSeries(props.bars, phase, props.barLevel),
      showLine: true,
      spanGaps: false,
      borderColor: COLORS[phase],
      backgroundColor: COLORS[phase],
      borderWidth: 8.5,
      borderCapStyle: 'butt',
      pointRadius: 0,
      tension: 0,
    });
    const chart = new Chart(ref.current as HTMLCanvasElement, {
      type: 'scatter',
      data: {
        datasets: [
          pointDs('shrinking', props.shrinking),
          pointDs('growth', props.growth),
          pointDs('recovery', props.recovery),
          pointDs('additional', props.additional),
          barDs('shrinking'),
          barDs('growth'),
          barDs('recovery'),
        ] as any,
      },
      options: {
        animation: false,
        responsive: false,
        events: [],
        layout: { padding: { top: props.padTop, right: 0, bottom: 0, left: 0 } },
        plugins: { legend: { display: false }, tooltip: { enabled: false } },
        scales: {
          x: {
            type: 'linear',
            min: X_MIN,
            max: X_MAX,
            afterBuildTicks: (s: any) => {
              s.ticks = xTicks.map((t) => ({ value: t.value }));
            },
            afterFit: (s: any) => {
              s.height = 46;
              s.paddingLeft = 0;
              s.paddingRight = 0;
            },
            border: { display: false },
            grid: {
              color: '#DEDEDE',
              lineWidth: (c: any) => (xTicks[c.index] && xTicks[c.index].kind === 'minor' ? 0.6 : 1.1),
              tickColor: (c: any) => (xTicks[c.index] && xTicks[c.index].kind !== 'minor' ? '#B3B3B3' : 'rgba(0,0,0,0)'),
              tickWidth: 1.1,
              tickLength: 5,
              drawTicks: true,
            },
            ticks: {
              autoSkip: false,
              maxRotation: 0,
              minRotation: 0,
              padding: 8,
              color: '#4D4D4D',
              font: { family: FONT, size: 18.5 },
              callback: (_v: any, i: number) => (xTicks[i] ? xTicks[i].label : ''),
            },
          },
          y: {
            type: 'linear',
            min: props.yRange[0],
            max: props.yRange[1],
            afterBuildTicks: (s: any) => {
              s.ticks = yTicks.map((v) => ({ value: v }));
            },
            afterFit: (s: any) => {
              s.width = 114;
              s.paddingTop = 0;
              s.paddingBottom = 0;
            },
            border: { display: false },
            grid: {
              color: '#DEDEDE',
              lineWidth: (c: any) => (isMajorY(c.index) ? 1.1 : 0.6),
              tickColor: (c: any) => (isMajorY(c.index) ? '#B3B3B3' : 'rgba(0,0,0,0)'),
              tickWidth: 1.1,
              tickLength: 6,
              drawTicks: true,
            },
            ticks: {
              autoSkip: false,
              padding: 10,
              color: '#4D4D4D',
              font: { family: FONT, size: 18.5 },
              callback: (_v: any, i: number) => (isMajorY(i) ? String(yTicks[i]) : ''),
            },
          },
        },
      } as any,
      plugins: [decorPlugin],
    });
    return () => chart.destroy();
  }, []);
  return (
    <canvas
      ref={ref}
      width={1184}
      height={props.height}
      style={{ position: 'absolute', left: 0, top: props.top, width: 1184, height: props.height }}
    />
  );
}

function PanelTitle({ letter, name, letterLeft, nameLeft, centerY }: { letter: string; name: string; letterLeft: number; nameLeft: number; centerY: number }) {
  const common: React.CSSProperties = { position: 'absolute', top: centerY - 15, height: 30, lineHeight: '30px', fontFamily: FONT, fontSize: 25, color: '#000', whiteSpace: 'nowrap' };
  return (
    <>
      <div style={{ ...common, left: letterLeft, fontWeight: 'bold' }}>{letter}</div>
      <div style={{ ...common, left: nameLeft, fontStyle: 'italic' }}>{name}</div>
    </>
  );
}

function YTitle({ centerY }: { centerY: number }) {
  const w = 320;
  const h = 28;
  return (
    <div
      style={{
        position: 'absolute',
        left: 22 - w / 2,
        top: centerY - h / 2,
        width: w,
        height: h,
        lineHeight: h + 'px',
        textAlign: 'center',
        transform: 'rotate(-90deg)',
        fontFamily: FONT,
        fontSize: 22,
        color: '#000',
        whiteSpace: 'nowrap',
      }}
    >
      Stem diameter change [µm]
    </div>
  );
}

export default function App() {
  const legendPos = [
    { dot: 313, text: 340 },
    { dot: 442, text: 462 },
    { dot: 592, text: 621 },
    { dot: 756, text: 785 },
  ];
  const legendKeys = ['growth', 'recovery', 'shrinking', 'additional'];
  return (
    <div style={{ position: 'absolute', left: 0, top: 0, width: 1184, height: 1437, overflow: 'hidden', background: '#fff' }}>
      <PanelTitle letter="A" name="B. nana" letterLeft={80} nameLeft={130} centerY={21} />
      <Panel
        top={40}
        height={650}
        padTop={14}
        yRange={A_yRange}
        yMajor={A_yMajor}
        yMinor={A_yMinor}
        barLevel={A_barLevel}
        growth={A_growth}
        recovery={A_recovery}
        shrinking={A_shrinking}
        additional={A_additional}
        bars={A_phaseBars}
      />
      <YTitle centerY={359.5} />
      <PanelTitle letter="B" name="E. hermaphroditum" letterLeft={96} nameLeft={147} centerY={728} />
      <Panel
        top={742}
        height={652}
        padTop={15}
        yRange={B_yRange}
        yMajor={B_yMajor}
        yMinor={B_yMinor}
        barLevel={B_barLevel}
        growth={B_growth}
        recovery={B_recovery}
        shrinking={B_shrinking}
        additional={B_additional}
        bars={B_phaseBars}
      />
      <YTitle centerY={1062} />
      {legendItems.map((name, i) => (
        <React.Fragment key={name}>
          <div
            style={{
              position: 'absolute',
              left: legendPos[i].dot - 3.5,
              top: 1425 - 3.5,
              width: 7,
              height: 7,
              borderRadius: '50%',
              background: COLORS[legendKeys[i]],
            }}
          />
          <div
            style={{
              position: 'absolute',
              left: legendPos[i].text,
              top: 1425 - 14,
              height: 28,
              lineHeight: '28px',
              fontFamily: FONT,
              fontSize: 22,
              color: '#000',
              whiteSpace: 'nowrap',
            }}
          >
            {name}
          </div>
        </React.Fragment>
      ))}
    </div>
  );
}
